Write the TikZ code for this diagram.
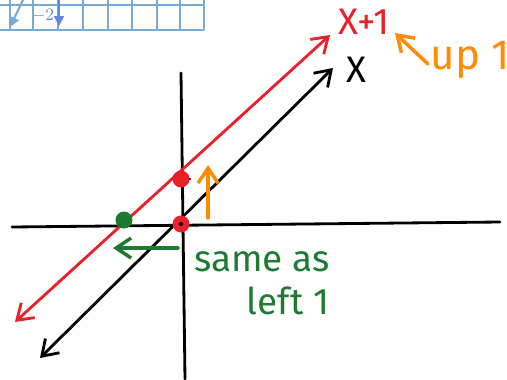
\documentclass[tikz,border=0pt]{standalone}
\usepackage{fontspec}
\setmainfont{Fira Sans}
\usetikzlibrary{arrows.meta,positioning}
\definecolor{penred}{RGB}{232,32,40}
\definecolor{pengreen}{RGB}{30,122,50}
\definecolor{penorange}{RGB}{255,140,0}
\definecolor{gridblue}{RGB}{120,170,215}

\begin{document}
\begin{tikzpicture}[x=0.02cm,y=-0.02cm,
  pen/.style={line width=1.6pt,line cap=round},
  arr/.style={pen,-{Straight Barb[length=3mm,width=4mm]}},
  both/.style={pen,{Straight Barb[length=3mm,width=4mm]}-{Straight Barb[length=3mm,width=4mm]}},
  dot/.style={circle,fill=#1,inner sep=0pt,minimum size=3.4mm},
  lbl/.style={font=\fontsize{21}{22}\selectfont,inner sep=1pt}
]
\useasboundingbox (0,0) rectangle (507,379);

% piece of the grid, top left
\foreach \gx in {10,33,58,83,108,132,157,180,204}
  \draw[gridblue,line width=0.7pt] (\gx,0) -- (\gx,30);
\draw[gridblue,line width=0.7pt] (0,5) -- (204,5);
\draw[gridblue,line width=0.7pt] (0,30) -- (204,30);
\draw[gridblue,line width=1.2pt,-{Triangle[length=2mm,width=2mm]}] (23,0) -- (10,27);
\draw[gridblue!80!blue,line width=1pt,-{Triangle[length=2mm,width=2mm]}] (59,0) -- (59,26);
\node[text=gridblue!80!blue,font=\normalsize,inner sep=1pt] (m2) at (43,16) {$-2$};

% axes
\coordinate (xl) at (12,227);
\coordinate (xr) at (500,222);
\coordinate (yt) at (181,73);
\coordinate (yb) at (185,379);
\draw[pen] (xl) -- (xr);
\draw[pen] (yt) -- (yb);
\draw[pen] (172,179) -- (190,179);

% the lines
\coordinate (kb) at (40,358);
\coordinate (kt) at (333,68);
\coordinate (rb) at (15,322);
\coordinate (rt) at (330,35);
\draw[both] (kb) -- (kt);
\draw[both,penred] (rb) -- (rt);

% points
\node[dot=penred] (p0) at (181,224) {};
\node[dot=penred] (p1) at (181,179) {};
\node[dot=pengreen] (q0) at (124,220) {};
\fill (p0) circle (1.2pt);

% shifts
\coordinate (ua) at (208,218);
\coordinate (ub) at (208,165);
\draw[arr,penorange,line width=2pt] (ua) -- (ub);
\coordinate (la) at (178,248);
\coordinate (lb) at (113,248);
\draw[arr,pengreen,line width=2pt] (la) -- (lb);

% labels
\node[lbl,text=penred] (xp1) at (364,22) {X+1};
\node[lbl] (xx) at (356,70) {X};
\node[lbl,text=penorange,font=\fontsize{24}{25}\selectfont] (up) at (470,60) {up 1};
\coordinate (ut) at (428,64);
\draw[arr,penorange,line width=2pt] (ut) -- (395,33);
\node[lbl,text=pengreen] (same) at (262,262) {same as};
\node[lbl,text=pengreen] (left) at (288,301) {left 1};
\end{tikzpicture}
\end{document}
